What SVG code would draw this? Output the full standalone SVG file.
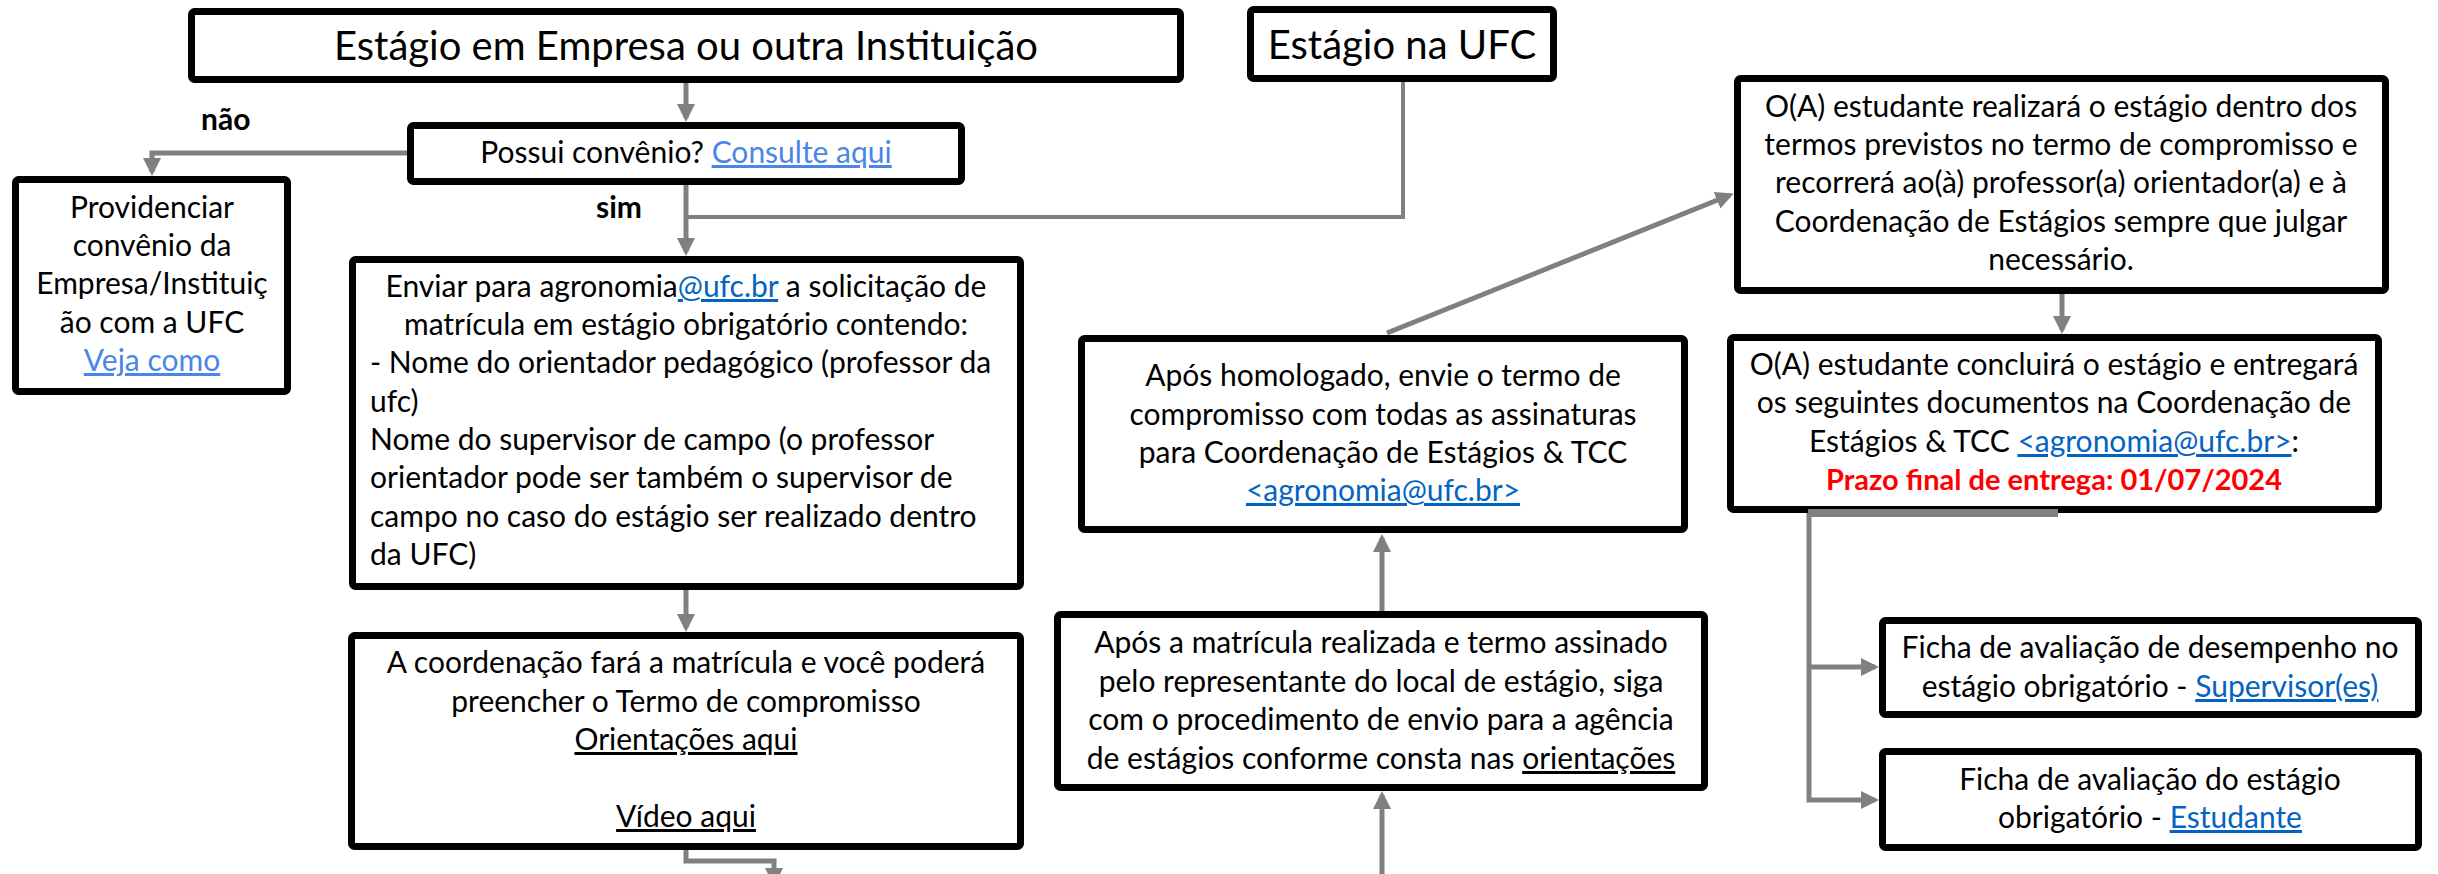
<svg xmlns="http://www.w3.org/2000/svg" width="2438" height="874" viewBox="0 0 2438 874">
<style>
.box{fill:#fff;stroke:#000;stroke-width:7;}
.t{font-family:Lato,"Liberation Sans",sans-serif;font-size:30px;fill:#000;text-anchor:middle;}
.s{text-anchor:start;}
.title{font-size:40px;}
.lk{fill:#0563C1;text-decoration:underline;}
.lk2{fill:#4A86E8;text-decoration:underline;}
.u{text-decoration:underline;}
.red{fill:#FF0000;font-weight:bold;font-size:29px;}
.lbl{font-weight:bold;text-anchor:start;}
.c{stroke:#808080;stroke-width:5;fill:none;}
.cth{stroke:#808080;stroke-width:4;fill:none;}
</style>
<defs>
<marker id="ah" markerUnits="userSpaceOnUse" markerWidth="20" markerHeight="20" viewBox="0 0 20 20" refX="14" refY="10" orient="auto">
<path d="M0,1 L18,10 L0,19 z" fill="#808080"/>
</marker>
</defs>

<g id="connectors">
<path class="c" d="M686 83 V118" marker-end="url(#ah)"/>
<path class="c" d="M407 153 H152 V172" marker-end="url(#ah)"/>
<path class="c" d="M686 185 V252" marker-end="url(#ah)"/>
<path class="cth" d="M1403 82 V217 H686"/>
<path class="c" d="M686 590 V628" marker-end="url(#ah)"/>
<path class="c" d="M686 850 V861 H774 V882" marker-end="url(#ah)"/>
<path class="c" d="M1382 874 V795" marker-end="url(#ah)"/>
<path class="c" d="M1382 611 V538" marker-end="url(#ah)"/>
<path class="c" d="M1387 333 L1730 195" marker-end="url(#ah)"/>
<path class="c" d="M2062 294 V330" marker-end="url(#ah)"/>
<path class="c" d="M1809 513 V800 H1875" marker-end="url(#ah)"/>
<path class="c" d="M1809 667 H1875" marker-end="url(#ah)"/>
</g>

<g id="n-empresa">
<rect class="box" x="191.5" y="11.5" width="989" height="68" rx="3"/>
<text class="t title" x="686" y="60">Estágio em Empresa ou outra Instituição</text>
</g>

<g id="n-ufc">
<rect class="box" x="1250.5" y="9.5" width="303" height="69" rx="3"/>
<text class="t title" x="1402" y="59">Estágio na UFC</text>
</g>

<g id="n-convenio">
<rect class="box" x="410.5" y="125.5" width="551" height="56" rx="3"/>
<text class="t" x="686" y="163">Possui convênio? <tspan class="lk2">Consulte aqui</tspan></text>
</g>

<g id="labels">
<text class="t lbl" x="201" y="130">não</text>
<text class="t lbl" x="596" y="218">sim</text>
</g>

<g id="n-providenciar">
<rect class="box" x="15.5" y="179.5" width="272" height="212" rx="3"/>
<text class="t" x="152" y="218">Providenciar</text>
<text class="t" x="152" y="256">convênio da</text>
<text class="t" x="152" y="294">Empresa/Instituiç</text>
<text class="t" x="152" y="333">ão com a UFC</text>
<text class="t" x="152" y="371"><tspan class="lk2">Veja como</tspan></text>
</g>

<g id="n-enviar">
<rect class="box" x="352.5" y="259.5" width="668" height="327" rx="3"/>
<text class="t" x="686" y="297">Enviar para agronomia<tspan class="lk">@ufc.br</tspan> a solicitação de</text>
<text class="t" x="686" y="335">matrícula em estágio obrigatório contendo:</text>
<text class="t s" x="370" y="373">- Nome do orientador pedagógico (professor da</text>
<text class="t s" x="370" y="412">ufc)</text>
<text class="t s" x="370" y="450">Nome do supervisor de campo (o professor</text>
<text class="t s" x="370" y="488">orientador pode ser também o supervisor de</text>
<text class="t s" x="370" y="527">campo no caso do estágio ser realizado dentro</text>
<text class="t s" x="370" y="565">da UFC)</text>
</g>

<g id="n-coordenacao">
<rect class="box" x="351.5" y="635.5" width="669" height="211" rx="3"/>
<text class="t" x="686" y="673">A coordenação fará a matrícula e você poderá</text>
<text class="t" x="686" y="712">preencher o Termo de compromisso</text>
<text class="t" x="686" y="750"><tspan class="u">Orientações aqui</tspan></text>
<text class="t" x="686" y="827"><tspan class="u">Vídeo aqui</tspan></text>
</g>

<g id="n-homologado">
<rect class="box" x="1081.5" y="338.5" width="603" height="191" rx="3"/>
<text class="t" x="1383" y="386">Após homologado, envie o termo de</text>
<text class="t" x="1383" y="425">compromisso com todas as assinaturas</text>
<text class="t" x="1383" y="463">para Coordenação de Estágios &amp; TCC</text>
<text class="t" x="1383" y="501"><tspan class="lk">&lt;agronomia@ufc.br&gt;</tspan></text>
</g>

<g id="n-matricula">
<rect class="box" x="1057.5" y="614.5" width="647" height="173" rx="3"/>
<text class="t" x="1381" y="653">Após a matrícula realizada e termo assinado</text>
<text class="t" x="1381" y="692">pelo representante do local de estágio, siga</text>
<text class="t" x="1381" y="730">com o procedimento de envio para a agência</text>
<text class="t" x="1381" y="769">de estágios conforme consta nas <tspan class="u">orientações</tspan></text>
</g>

<g id="n-realizara">
<rect class="box" x="1737.5" y="78.5" width="648" height="212" rx="3"/>
<text class="t" x="2061" y="117">O(A) estudante realizará o estágio dentro dos</text>
<text class="t" x="2061" y="155">termos previstos no termo de compromisso e</text>
<text class="t" x="2061" y="193">recorrerá ao(à) professor(a) orientador(a) e à</text>
<text class="t" x="2061" y="232">Coordenação de Estágios sempre que julgar</text>
<text class="t" x="2061" y="270">necessário.</text>
</g>

<g id="n-concluira">
<rect class="box" x="1730.5" y="337.5" width="648" height="172" rx="3"/>
<text class="t" x="2054" y="375">O(A) estudante concluirá o estágio e entregará</text>
<text class="t" x="2054" y="413">os seguintes documentos na Coordenação de</text>
<text class="t" x="2054" y="452">Estágios &amp; TCC <tspan class="lk">&lt;agronomia@ufc.br&gt;</tspan>:</text>
<text class="t red" x="2054" y="490">Prazo final de entrega: 01/07/2024</text>
</g>

<g id="bar">
<path d="M1808 513 H2058" stroke="#808080" stroke-width="8" fill="none"/>
</g>

<g id="n-supervisor">
<rect class="box" x="1882.5" y="620.5" width="536" height="94" rx="3"/>
<text class="t" x="2150" y="658">Ficha de avaliação de desempenho no</text>
<text class="t" x="2150" y="697">estágio obrigatório - <tspan class="lk">Supervisor(es)</tspan></text>
</g>

<g id="n-estudante">
<rect class="box" x="1882.5" y="751.5" width="536" height="96" rx="3"/>
<text class="t" x="2150" y="790">Ficha de avaliação do estágio</text>
<text class="t" x="2150" y="828">obrigatório - <tspan class="lk">Estudante</tspan></text>
</g>
</svg>
